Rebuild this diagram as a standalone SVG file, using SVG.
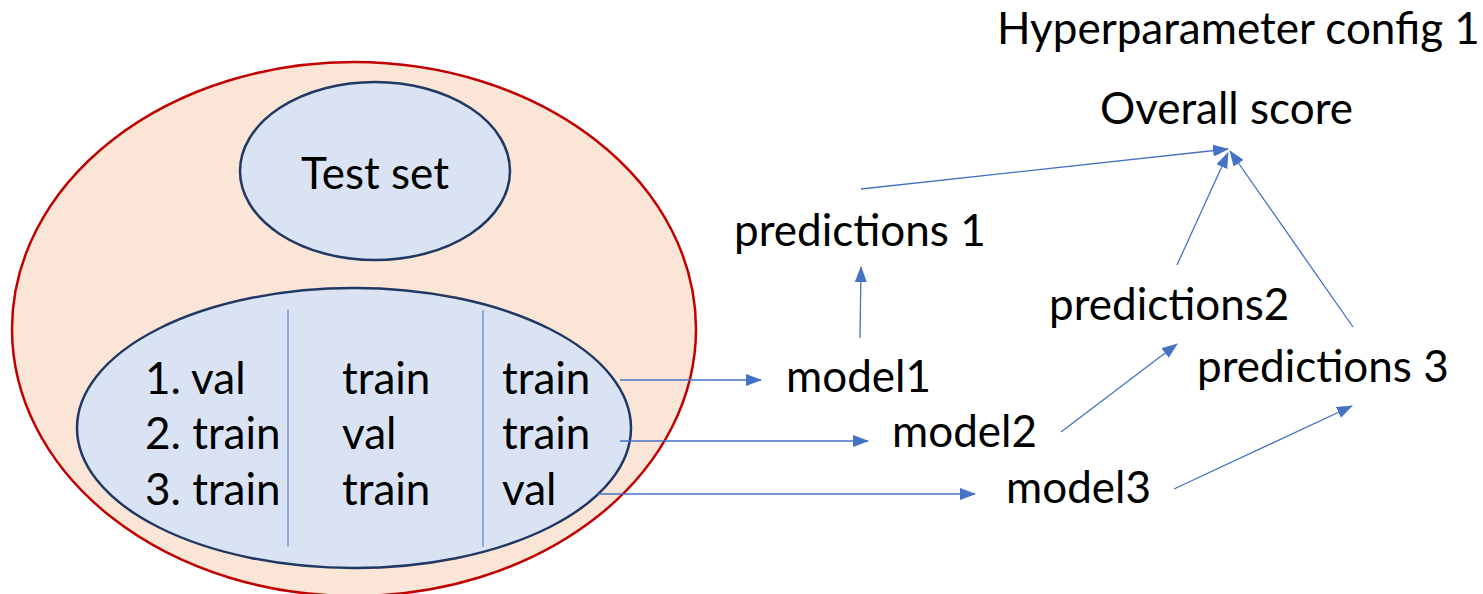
<svg xmlns="http://www.w3.org/2000/svg" width="1483" height="594" viewBox="0 0 1483 594">
<defs>
<style>
text{font-family:Lato,"Open Sans",sans-serif;font-size:44px;fill:#000}
.c{stroke:#4472C4;stroke-width:1.3;fill:none}
.in{fill:#DAE3F3;stroke:#203864;stroke-width:2.5}
</style>
<marker id="ah" markerUnits="userSpaceOnUse" markerWidth="16" markerHeight="12" refX="15" refY="6" orient="auto">
<path d="M0,0 L16,6 L0,12 Z" fill="#4472C4"/>
</marker>
</defs>
<rect width="1483" height="594" fill="#fff"/>
<g id="dataset">
<ellipse cx="354" cy="329" rx="342" ry="267" fill="#FBE5D6" stroke="#C00000" stroke-width="2.5"/>
</g>
<g id="testset">
<ellipse class="in" cx="375" cy="171" rx="135" ry="89"/>
<text x="375" y="189" text-anchor="middle">Test set</text>
</g>
<g id="folds">
<ellipse class="in" cx="354" cy="428" rx="277" ry="140"/>
<line x1="288" y1="310" x2="288" y2="547" stroke="#4472C4" stroke-width="1"/>
<line x1="483" y1="310" x2="483" y2="547" stroke="#4472C4" stroke-width="1"/>
<text x="145" y="394">1. val</text>
<text x="342" y="394">train</text>
<text x="502" y="394">train</text>
<text x="145" y="449">2. train</text>
<text x="342" y="449">val</text>
<text x="502" y="449">train</text>
<text x="145" y="505">3. train</text>
<text x="342" y="505">train</text>
<text x="502" y="505">val</text>
</g>
<g id="model1"><text x="786" y="392">model1</text></g>
<g id="model2"><text x="892" y="447">model2</text></g>
<g id="model3"><text x="1006" y="503">model3</text></g>
<g id="pred1"><text x="734" y="246">predictions 1</text></g>
<g id="pred2"><text x="1049" y="320">predictions2</text></g>
<g id="pred3"><text x="1197" y="382">predictions 3</text></g>
<g id="overall"><text x="1100" y="124">Overall score</text></g>
<g id="title"><text x="997" y="44">Hyperparameter config 1</text></g>
<g id="connectors">
<line class="c" x1="620" y1="380" x2="761" y2="380" marker-end="url(#ah)"/>
<line class="c" x1="620" y1="441" x2="868" y2="441" marker-end="url(#ah)"/>
<line class="c" x1="598" y1="494" x2="975" y2="494" marker-end="url(#ah)"/>
<line class="c" x1="860" y1="338" x2="861" y2="267" marker-end="url(#ah)"/>
<line class="c" x1="861" y1="189" x2="1228" y2="149" marker-end="url(#ah)"/>
<line class="c" x1="1177" y1="265" x2="1228" y2="153" marker-end="url(#ah)"/>
<line class="c" x1="1353" y1="327" x2="1230" y2="151" marker-end="url(#ah)"/>
<line class="c" x1="1061" y1="432" x2="1177" y2="344" marker-end="url(#ah)"/>
<line class="c" x1="1174" y1="489" x2="1352" y2="406" marker-end="url(#ah)"/>
</g>
</svg>
